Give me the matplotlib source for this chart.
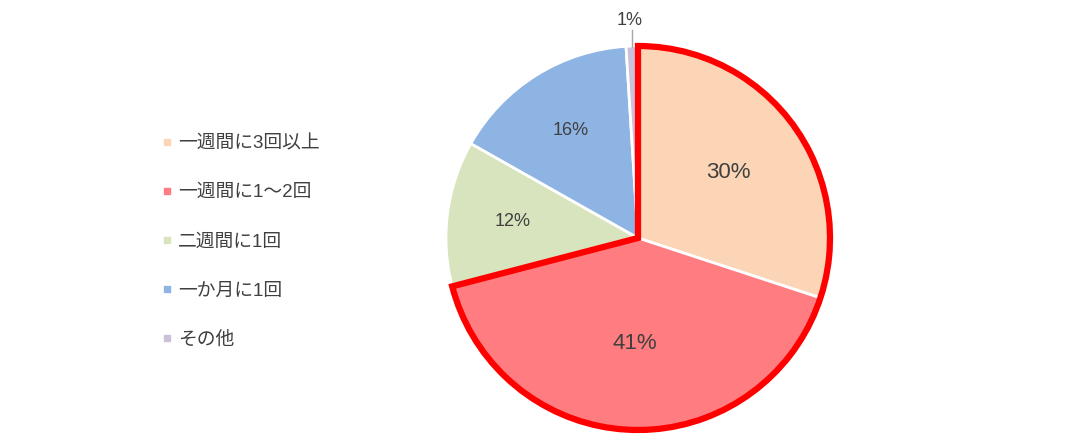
import matplotlib.pyplot as plt
import numpy as np
from matplotlib.patches import Wedge

plt.rcParams['font.family'] = ['Liberation Sans', 'Noto Sans CJK JP', 'DejaVu Sans']

# data
labels = ['一週間に3回以上', '一週間に1～2回', '二週間に1回', '一か月に1回', 'その他']
values = [30.2, 41.1, 12.3, 15.9, 1.0]
pct_text = ['30%', '41%', '12%', '16%', '1%']
colors = ['#FBD5B5', '#FF7C80', '#D7E4BD', '#8EB4E3', '#CCC1DA']
pct_dist = [0.58, 0.55, 0.66, 0.66, 1.0]
pct_size = [16, 16, 13, 13, 13]

W, H = 1085, 445
fig = plt.figure(figsize=(W / 100, H / 100), dpi=100)
ax = fig.add_axes([0, 0, 1, 1])

cx, cy, r = 638, H - 238, 192

wedges, _ = ax.pie(values, colors=colors, startangle=90, counterclock=False,
                   center=(cx, cy), radius=r, frame=True,
                   wedgeprops=dict(edgecolor='white', linewidth=2))
ax.set_xlim(0, W)
ax.set_ylim(0, H)
ax.set_aspect('equal')
ax.axis('off')

# red outline around the first two slices
t2 = wedges[0].theta2
t1 = wedges[1].theta1
ax.add_patch(Wedge((cx, cy), r, t1, t2, facecolor='none', edgecolor='#FF0000',
                   linewidth=4.5, joinstyle='miter', zorder=5))

# percent labels
for i, w in enumerate(wedges):
    mid = np.deg2rad((w.theta1 + w.theta2) / 2)
    if i == 4:
        ax.plot([cx - 6, cx - 6], [cy + r - 1, cy + r + 16], color='#A6A6A6', lw=1)
        ax.text(cx - 8, cy + r + 17, pct_text[i], ha='center', va='bottom',
                fontsize=pct_size[i], color='#404040')
        continue
    d = pct_dist[i] * r
    ax.text(cx + d * np.cos(mid), cy + d * np.sin(mid), pct_text[i],
            ha='center', va='center', fontsize=pct_size[i], color='#404040')

# legend
handles = [plt.Line2D([], [], marker='s', ls='none', markersize=4.5,
                      markerfacecolor=c, markeredgecolor=c) for c in colors]
fig.legend(handles, labels, loc='upper left', bbox_to_anchor=(145 / W, 1 - 118 / H),
           frameon=False, fontsize=13.5, labelspacing=1.71, handlelength=0.5,
           handletextpad=0.35, labelcolor='#404040')

fig.savefig('out.png', dpi=100)
